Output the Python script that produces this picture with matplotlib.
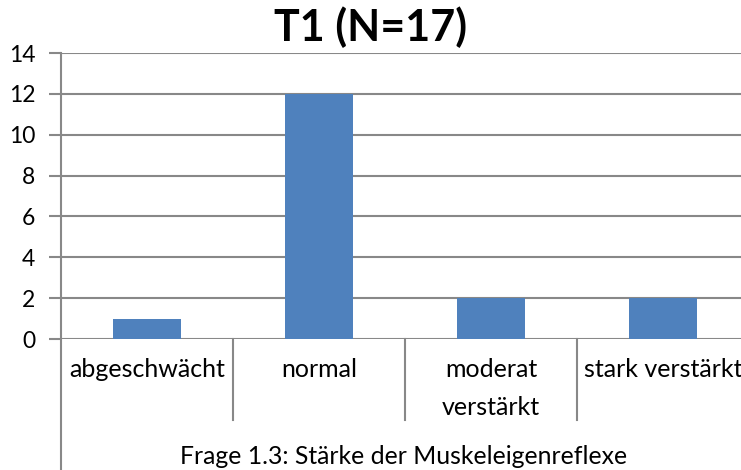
import matplotlib
matplotlib.use("Agg")
import matplotlib.pyplot as plt
from matplotlib.lines import Line2D

# Daten
kategorien = ["abgeschwächt", "normal", "moderat\nverstärkt", "stark verstärkt"]
anzahl = [1, 12, 2, 2]
y_ticks = [0, 2, 4, 6, 8, 10, 12, 14]

titel = "T1 (N=17)"
x_titel = "Frage 1.3: Stärke der Muskeleigenreflexe"

plt.rcParams["font.family"] = ["Lato", "DejaVu Sans"]
grau = "#888888"
blau = "#4F81BD"

W, H = 741, 470
fig = plt.figure(figsize=(W / 100, H / 100), dpi=100)

# Plotbereich in Pixeln (links, unten, rechts, oben)
x0, x1, y_top, y_bot = 61, 749, 53, 339
ax = fig.add_axes([x0 / W, (H - y_bot) / H, (x1 - x0) / W, (y_bot - y_top) / H])

pos = range(len(kategorien))
ax.bar(pos, anzahl, width=0.4, color=blau, zorder=3)

ax.set_xlim(-0.5, len(kategorien) - 0.5)
ax.set_ylim(0, 14)
ax.set_yticks(y_ticks)
ax.yaxis.grid(True, color=grau, linewidth=1.5, zorder=0)
ax.tick_params(axis="y", length=9, width=1.5, color=grau, labelsize=16.5, pad=9.5)

ax.set_xticks(list(pos))
ax.set_xticklabels(kategorien, fontsize=18, linespacing=1.75)
ax.tick_params(axis="x", length=0, pad=14)

for s in ["top", "right", "bottom", "left"]:
    ax.spines[s].set_visible(False)

# Trennlinien zwischen den Kategorien
trans = ax.get_xaxis_transform()
unten = (H - 420 - (H - y_bot)) / (y_bot - y_top)
for i in range(1, len(kategorien)):
    ax.plot([i - 0.5, i - 0.5], [0, unten], color=grau, linewidth=1.5,
            transform=trans, clip_on=False)

# senkrechte Achse bis zum unteren Rand
fig.add_artist(Line2D([x0 / W, x0 / W], [0, (H - y_top) / H], color=grau,
                      linewidth=1.5, transform=fig.transFigure))

fig.text(370.5 / W, (H - 27) / H, titel, ha="center", va="center",
         fontsize=31, fontweight="bold")
fig.text(404 / W, (H - 456) / H, x_titel, ha="center", va="center", fontsize=17.8)

fig.savefig("out.png", dpi=100)
